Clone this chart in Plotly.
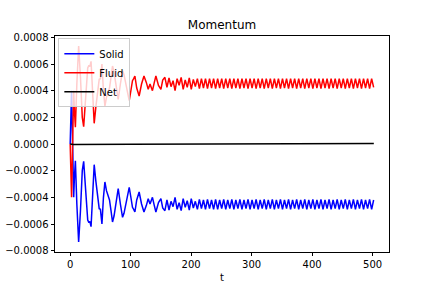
import plotly.graph_objects as go

# ---- data ----
# transient part
t_start = [0, 1.2, 2.3, 4.0, 5.8, 7.0, 8.6, 11, 14, 17, 20, 22.3, 25, 27, 29, 31, 32.5, 34.5,
           37, 39.7, 42.5, 45, 48, 50, 52.5, 55, 57.4, 60, 63.5, 65, 67.5, 70, 72.5, 75, 79.4,
           83, 86.6, 89, 92, 95, 97.6, 100, 103, 105, 107, 110, 114, 118, 122, 126, 129, 132,
           136, 139, 141.7, 146, 150, 153, 156.6]
solid_start = [0, 2.5e-4, 4.0e-4, 0.0, -4.0e-4, -2.5e-4, -1.26e-4, -4.5e-4, -7.35e-4, -5.0e-4,
               -2.0e-4, -1.3e-4, -3.0e-4, -4.6e-4, -5.7e-4, -5.9e-4, -5.8e-4, -6.2e-4, -3.5e-4,
               -1.55e-4, -2.8e-4, -4.0e-4, -4.85e-4, -4.9e-4, -6.0e-4, -4.0e-4, -2.85e-4,
               -3.5e-4, -4.0e-4, -4.2e-4, -5.0e-4, -5.85e-4, -5.4e-4, -4.5e-4, -3.35e-4,
               -4.5e-4, -5.5e-4, -5.2e-4, -4.5e-4, -3.6e-4, -3.25e-4, -3.9e-4, -4.75e-4,
               -4.9e-4, -5.1e-4, -4.2e-4, -3.6e-4, -4.5e-4, -5.1e-4, -4.6e-4, -4.1e-4,
               -4.5e-4, -4.0e-4, -4.6e-4, -5.1e-4, -4.4e-4, -4.1e-4, -4.8e-4, -5.0e-4]
fluid_start = [0, -2.5e-4, -4.0e-4, 0.0, 4.0e-4, 2.5e-4, 1.25e-4, 4.5e-4, 7.35e-4, 5.0e-4,
               2.0e-4, 1.3e-4, 3.0e-4, 4.6e-4, 5.7e-4, 5.9e-4, 5.8e-4, 6.2e-4, 3.5e-4,
               1.55e-4, 2.8e-4, 4.0e-4, 4.85e-4, 4.9e-4, 6.0e-4, 4.0e-4, 2.85e-4,
               3.5e-4, 4.0e-4, 4.2e-4, 5.0e-4, 5.85e-4, 5.4e-4, 4.5e-4, 3.35e-4,
               4.5e-4, 5.5e-4, 5.2e-4, 4.5e-4, 3.6e-4, 3.25e-4, 3.9e-4, 4.75e-4,
               4.9e-4, 5.1e-4, 4.2e-4, 3.6e-4, 4.5e-4, 5.1e-4, 4.6e-4, 4.1e-4,
               4.5e-4, 4.0e-4, 4.6e-4, 5.1e-4, 4.4e-4, 4.1e-4, 4.8e-4, 5.0e-4]

# steady oscillating part
t_steady = [160.0, 163.4, 166.7, 170.1, 173.4, 176.8, 180.1, 183.5, 186.8, 190.2, 193.5, 196.9,
            200.2, 203.6, 206.9, 210.3, 213.6, 217.0, 220.3, 223.7, 227.0, 230.4, 233.7, 237.1,
            240.4, 243.8, 247.1, 250.5, 253.8, 257.2, 260.5, 263.9, 267.2, 270.6, 273.9, 277.3,
            280.6, 284.0, 287.3, 290.7, 294.0, 297.4, 300.7, 304.1, 307.4, 310.8, 314.1, 317.5,
            320.8, 324.2, 327.5, 330.9, 334.2, 337.6, 340.9, 344.3, 347.6, 351.0, 354.3, 357.7,
            361.0, 364.4, 367.7, 371.1, 374.4, 377.8, 381.1, 384.5, 387.8, 391.2, 394.5, 397.9,
            401.2, 404.6, 407.9, 411.3, 414.6, 418.0, 421.3, 424.7, 428.0, 431.4, 434.7, 438.1,
            441.4, 444.8, 448.1, 451.5, 454.8, 458.2, 461.5, 464.9, 468.2, 471.6, 474.9, 478.3,
            481.6, 485.0, 488.3, 491.7, 495.0, 498.4, 501.7]
solid_steady = [-4.2e-4, -4.95e-4, -4.3e-4, -4.7e-4, -4.0e-4, -4.9e-4, -4.4e-4, -5.0e-4, -4.1e-4,
                -4.75e-4, -4.25e-4, -4.95e-4, -4.1e-4, -4.8e-4, -4.3e-4, -4.9e-4, -4.15e-4,
                -4.85e-4, -4.2e-4, -4.9e-4, -4.15e-4, -4.85e-4, -4.2e-4, -4.9e-4, -4.15e-4,
                -4.9e-4, -4.2e-4, -4.85e-4, -4.15e-4, -4.9e-4, -4.2e-4, -4.85e-4, -4.15e-4,
                -4.9e-4, -4.2e-4, -4.85e-4, -4.15e-4, -4.9e-4, -4.2e-4, -4.85e-4, -4.15e-4,
                -4.9e-4, -4.2e-4, -4.85e-4, -4.15e-4, -4.9e-4, -4.2e-4, -4.85e-4, -4.15e-4,
                -4.9e-4, -4.2e-4, -4.85e-4, -4.15e-4, -4.9e-4, -4.2e-4, -4.85e-4, -4.15e-4,
                -4.9e-4, -4.2e-4, -4.85e-4, -4.15e-4, -4.9e-4, -4.2e-4, -4.85e-4, -4.15e-4,
                -4.9e-4, -4.2e-4, -4.85e-4, -4.15e-4, -4.9e-4, -4.2e-4, -4.85e-4, -4.15e-4,
                -4.9e-4, -4.2e-4, -4.85e-4, -4.15e-4, -4.9e-4, -4.2e-4, -4.85e-4, -4.15e-4,
                -4.9e-4, -4.2e-4, -4.85e-4, -4.15e-4, -4.9e-4, -4.2e-4, -4.85e-4, -4.15e-4,
                -4.9e-4, -4.2e-4, -4.85e-4, -4.15e-4, -4.9e-4, -4.2e-4, -4.85e-4, -4.15e-4,
                -4.9e-4, -4.2e-4, -4.85e-4, -4.15e-4, -4.9e-4, -4.2e-4]
fluid_steady = [4.25e-4, 4.95e-4, 4.3e-4, 4.75e-4, 4.0e-4, 4.9e-4, 4.4e-4, 5.0e-4, 4.1e-4,
                4.8e-4, 4.25e-4, 4.95e-4, 4.1e-4, 4.85e-4, 4.3e-4, 4.9e-4, 4.15e-4,
                4.9e-4, 4.2e-4, 4.9e-4, 4.15e-4, 4.9e-4, 4.2e-4, 4.9e-4, 4.15e-4,
                4.9e-4, 4.2e-4, 4.9e-4, 4.15e-4, 4.9e-4, 4.2e-4, 4.9e-4, 4.15e-4,
                4.9e-4, 4.2e-4, 4.9e-4, 4.15e-4, 4.9e-4, 4.2e-4, 4.9e-4, 4.15e-4,
                4.9e-4, 4.2e-4, 4.9e-4, 4.15e-4, 4.9e-4, 4.2e-4, 4.9e-4, 4.15e-4,
                4.9e-4, 4.2e-4, 4.9e-4, 4.15e-4, 4.9e-4, 4.2e-4, 4.9e-4, 4.15e-4,
                4.9e-4, 4.2e-4, 4.9e-4, 4.15e-4, 4.9e-4, 4.2e-4, 4.9e-4, 4.15e-4,
                4.9e-4, 4.2e-4, 4.9e-4, 4.15e-4, 4.9e-4, 4.2e-4, 4.9e-4, 4.15e-4,
                4.9e-4, 4.2e-4, 4.9e-4, 4.15e-4, 4.9e-4, 4.2e-4, 4.9e-4, 4.15e-4,
                4.9e-4, 4.2e-4, 4.9e-4, 4.15e-4, 4.9e-4, 4.2e-4, 4.9e-4, 4.15e-4,
                4.9e-4, 4.2e-4, 4.9e-4, 4.15e-4, 4.9e-4, 4.2e-4, 4.9e-4, 4.15e-4,
                4.9e-4, 4.2e-4, 4.9e-4, 4.15e-4, 4.9e-4, 4.25e-4]

t_net = [0, 5, 100, 300, 502]
net = [0.0, -3e-6, -2e-6, 1e-6, 4e-6]

x_ticks = [0, 100, 200, 300, 400, 500]
y_ticks = [-0.0008, -0.0006, -0.0004, -0.0002, 0.0, 0.0002, 0.0004, 0.0006, 0.0008]
y_tick_labels = ["\u22120.0008", "\u22120.0006", "\u22120.0004", "\u22120.0002", "0.0000",
                 "0.0002", "0.0004", "0.0006", "0.0008"]

t_all = t_start + t_steady
solid = solid_start + solid_steady
fluid = fluid_start + fluid_steady

FONT = "DejaVu Sans"

fig = go.Figure()
fig.add_trace(go.Scatter(x=t_all, y=solid, mode="lines", name="Solid",
                         line=dict(color="#0000ff", width=1.5)))
fig.add_trace(go.Scatter(x=t_all, y=fluid, mode="lines", name="Fluid",
                         line=dict(color="#ff0000", width=1.5)))
fig.add_trace(go.Scatter(x=t_net, y=net, mode="lines", name="Net",
                         line=dict(color="#000000", width=1.5)))

axis_common = dict(showgrid=False, zeroline=False, showline=True, mirror=True,
                   linecolor="black", linewidth=0.8, ticks="outside", ticklen=3.5,
                   tickwidth=0.8, tickcolor="black", automargin=False,
                   tickfont=dict(family=FONT, size=10, color="black"))

fig.update_layout(
    width=432, height=288,
    margin=dict(l=55, r=43, t=36, b=36),
    paper_bgcolor="white", plot_bgcolor="white",
    font=dict(family=FONT, size=10, color="black"),
    title=dict(text="Momentum", x=0.5, xref="paper", y=1 - 25 / 288, yref="container",
               xanchor="center", yanchor="middle", automargin=False,
               font=dict(family=FONT, size=12, color="black")),
    xaxis=dict(range=[-25.1, 527.1], tickvals=x_ticks,
               title=dict(text="t", standoff=4, font=dict(family=FONT, size=10)),
               **axis_common),
    yaxis=dict(range=[-0.00081, 0.00081], tickvals=y_ticks, ticktext=y_tick_labels,
               **axis_common),
    legend=dict(x=0.01, y=0.99, xanchor="left", yanchor="top",
                bgcolor="rgba(255,255,255,0.8)", bordercolor="#cccccc", borderwidth=1,
                font=dict(family=FONT, size=10), tracegroupgap=0, itemwidth=30),
    showlegend=True,
)

fig.write_html("out.html", config={"displayModeBar": False})

# remove the browser's default page margin so the 432x288 figure fills the window
with open("out.html", "r", encoding="utf-8") as f:
    html = f.read()
html = html.replace("<head>", "<head><style>html,body{margin:0;padding:0;overflow:hidden;}</style>", 1)
with open("out.html", "w", encoding="utf-8") as f:
    f.write(html)
